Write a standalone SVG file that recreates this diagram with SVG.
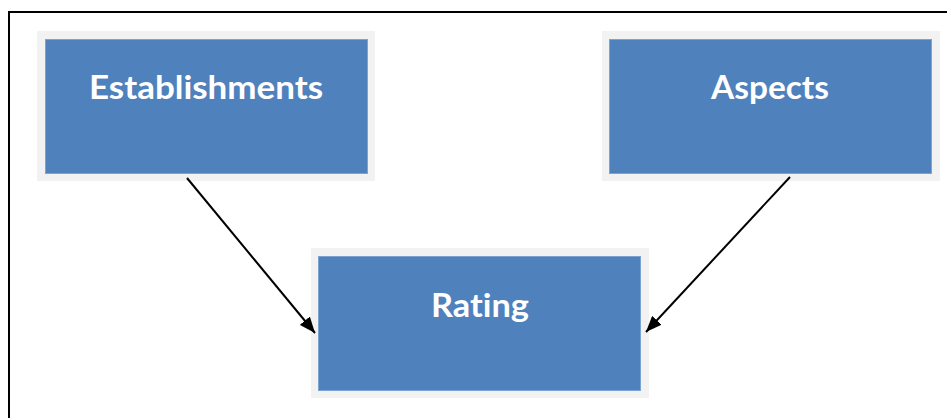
<svg xmlns="http://www.w3.org/2000/svg" width="947" height="418" viewBox="0 0 947 418">
  <defs>
    <marker id="arrow" viewBox="0 0 10 10" refX="10" refY="5" markerWidth="8" markerHeight="6.5" markerUnits="strokeWidth" orient="auto" preserveAspectRatio="none">
      <path d="M0,0 L10,5 L0,10 z" fill="#000"/>
    </marker>
  </defs>
  <style>
    .frame { fill: #F2F2F2; }
    .box { fill: #4F81BD; stroke: #7FA3D0; stroke-width: 1; }
    .label { font-family: "Lato", "Open Sans", "Liberation Sans", sans-serif; font-weight: bold; font-size: 33px; fill: #FFFFFF; text-anchor: middle; font-variant-ligatures: none; }
    .conn { stroke: #000; stroke-width: 2; fill: none; marker-end: url(#arrow); }
    .border { stroke: #000; stroke-width: 2; fill: none; }
  </style>
  <rect width="947" height="418" fill="#FFFFFF"/>
  <path class="border" d="M9,420 L9,12 L950,12"/>
  <g id="establishments">
    <rect class="frame" x="37" y="31" width="338" height="150"/>
    <rect class="box" x="45.5" y="39.5" width="322" height="134"/>
    <text class="label" x="206" y="99" textLength="234" lengthAdjust="spacingAndGlyphs">Establishments</text>
  </g>
  <g id="aspects">
    <rect class="frame" x="602" y="31" width="338" height="150"/>
    <rect class="box" x="609.5" y="39.5" width="322" height="134"/>
    <text class="label" x="770" y="99" textLength="118" lengthAdjust="spacingAndGlyphs">Aspects</text>
  </g>
  <g id="rating">
    <rect class="frame" x="311" y="248" width="338" height="150"/>
    <rect class="box" x="318.5" y="256.5" width="322" height="134"/>
    <text class="label" x="480" y="317" textLength="98" lengthAdjust="spacingAndGlyphs">Rating</text>
  </g>
  <g id="connectors">
    <line class="conn" x1="187" y1="178" x2="315" y2="333"/>
    <line class="conn" x1="790" y1="177" x2="646" y2="332"/>
  </g>
</svg>
